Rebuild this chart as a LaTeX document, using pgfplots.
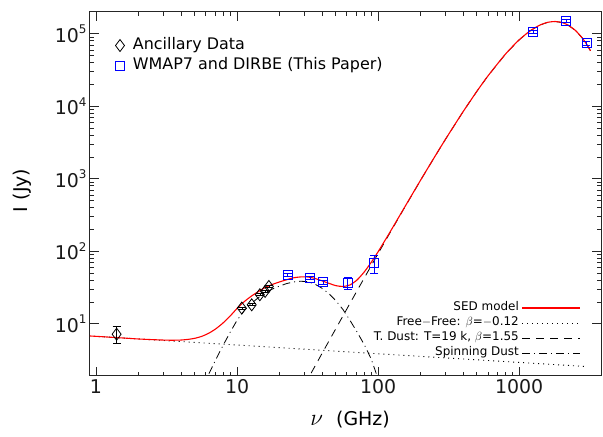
\documentclass[border=0pt]{standalone}
\usepackage{fontspec}
\setmainfont{DejaVu Sans}
\usepackage{pgfplots}
\pgfplotsset{compat=1.18}

\newcommand{\tp}[1]{10\raisebox{8.5bp}{\fontsize{12}{12}\selectfont #1}}

\begin{document}
\begin{tikzpicture}
% curves + frame
\begin{axis}[
  at={(0,0)}, anchor=south west,
  scale only axis, width=511bp, height=364bp,
  xmode=log, ymode=log,
  xmin=0.907, xmax=3800, ymin=1.91, ymax=2.0e5,
  axis line style={black!85, line width=1bp},
  tick style={black!85, line width=0.8bp},
  tick align=inside,
  major tick length=9bp, minor tick length=4.5bp,
  xtick={1,10,100,1000}, xticklabels={1,10,100,1000},
  ytick={10,100,1000,10000,100000},
  yticklabels={\tp{1},\tp{2},\tp{3},\tp{4},\tp{5}},
  tick label style={font=\fontsize{19}{19}\selectfont, black!90},
  xlabel={\scalebox{1.35}{$\nu$}\hspace{13bp}(GHz)},
  ylabel={I\,\,(Jy)},
  xlabel style={at={(axis description cs:0.509,-0.121)}, anchor=center, font=\fontsize{19}{19}\selectfont},
  ylabel style={at={(axis description cs:-0.133,0.51)}, anchor=center, font=\fontsize{19}{19}\selectfont},
  legend cell align=right, legend plot pos=right,
  legend image code/.code={\draw[#1] (0bp,0bp) -- (58bp,0bp);},
  legend style={at={(rel axis cs:0.967,0.038)}, anchor=south east,
    draw=none, fill=none, font=\fontsize{12}{12}\selectfont,
    nodes={inner sep=1bp, text height=9bp, text depth=3bp},
    row sep=1bp, column sep=2bp},
]
% thermal dust
\addplot[black, line width=0.8bp, dash pattern=on 8bp off 6bp, forget plot] coordinates {
(30,1.42) (35,2.44) (40,3.90) (50,8.51) (60,16.04) (70,27.4) (80,43.4) (90,65.0)
(100,93.3) (120,173.6) (150,368) (200,956) (250,1968) (300,3506) (400,8427)
(500,16020) (600,26220) (800,52670) (1000,82720) (1200,110600) (1400,131900)
(1600,144400) (1800,147800) (2000,143500) (2200,133200) (2500,111600)
(2800,87520) (3000,72170) (3200,58390)
};
% spinning dust
\addplot[black, line width=0.8bp, dash pattern=on 8bp off 4bp on 1bp off 4bp, forget plot] coordinates {
(5.623,1.26) (6.310,2.04) (7.079,3.24) (7.943,5.01) (8.913,7.59) (10,11.22)
(11.22,15.14) (12.59,19.05) (14.13,22.91) (15.85,26.92) (17.78,30.20)
(19.95,33.11) (22.39,35.89) (25.12,37.84) (28.18,38.73) (31.62,38.19)
(35.48,35.48) (39.81,31.19) (44.67,26.30) (50.12,20.89) (56.23,15.85)
(63.10,11.22) (70.79,7.76) (79.43,5.25) (89.13,3.31) (100,1.74) (112.2,0.79)
};
% free-free
\addplot[black, line width=0.9bp, dash pattern=on 1bp off 4bp, forget plot] coordinates {
(0.891,6.82) (10,5.11) (100,3.87) (1000,2.94) (3000,2.58)
};
% SED model
\addplot[red, line width=1.1bp, smooth, tension=0.4, forget plot] coordinates {
(0.891,6.82) (1,6.73) (1.259,6.55) (1.585,6.37) (1.995,6.19) (2.512,6.06)
(3.162,5.96) (3.548,5.95) (3.981,5.98) (4.467,6.10) (5.012,6.32) (5.623,6.73)
(6.310,7.44) (7.079,8.56) (7.943,10.26) (8.913,12.77) (10,16.33) (11.22,20.18)
(12.59,24.02) (14.13,27.81) (15.85,31.75) (17.78,34.96) (19.95,37.81)
(22.39,40.52) (25.12,43.17) (28.18,44.38) (31.62,44.35) (35.48,42.43)
(39.81,39.36) (44.67,36.30) (50.12,33.68) (56.23,32.79) (63.10,34.40)
(70.79,40.20) (79.43,51.53) (89.13,70.14) (100,98.91) (112.2,143.1)
(120,177.6) (150,371.7) (200,959.6) (250,1971) (300,3509) (400,8430)
(500,16020) (600,26220) (800,52670) (1000,82720) (1200,110600) (1400,131900)
(1600,144400) (1800,147800) (2000,143500) (2200,133200) (2500,111600)
(2800,87520) (3000,72170) (3200,58390)
};
\addlegendimage{red, line width=1.1bp}
\addlegendentry{SED model}
\addlegendimage{black, line width=0.9bp, dash pattern=on 1bp off 4bp}
\addlegendentry{Free$-$Free: $\beta$=$-$0.12}
\addlegendimage{black, line width=0.8bp, dash pattern=on 8bp off 6bp}
\addlegendentry{T. Dust: T=19 k, $\beta$=1.55}
\addlegendimage{black, line width=0.8bp, dash pattern=on 8bp off 4bp on 1bp off 4bp}
\addlegendentry{Spinning Dust}
\end{axis}

% data points
\begin{axis}[
  at={(0,0)}, anchor=south west,
  scale only axis, width=511bp, height=364bp,
  xmode=log, ymode=log,
  xmin=0.907, xmax=3800, ymin=1.91, ymax=2.0e5,
  hide axis,
  legend cell align=left,
  legend style={at={(rel axis cs:0.038,0.94)}, anchor=north west,
    draw=none, fill=none, font=\fontsize{16}{16}\selectfont,
    nodes={inner sep=1.5bp, text height=12bp, text depth=4bp},
    row sep=1bp, column sep=4bp},
  legend image code/.code={\draw[#1] plot coordinates {(0bp,0bp)}; \path (-7bp,0bp) (7bp,0bp);},
]
\addplot[black, only marks, mark=diamond, mark size=6bp, line width=0.8bp,
  error bars/.cd, y dir=both, y explicit, error mark options={rotate=90, mark size=4bp, line width=0.8bp}]
  coordinates {
(1.4,7.2) +- (0,1.9)
(10.8,16.5) +- (0,0.6)
(12.7,18.3) +- (0,0.6)
(14.5,25.2) +- (0,0.8)
(15.8,28.0) +- (0,0.8)
(16.8,32.8) +- (0,1.0)
};
\addlegendentry{Ancillary Data}
\addplot[blue, only marks, mark=square, mark size=4.5bp, line width=0.8bp,
  error bars/.cd, y dir=both, y explicit, error mark options={rotate=90, mark size=4bp, line width=0.8bp}]
  coordinates {
(22.8,47.6) +- (0,2.5)
(33.0,42.9) +- (0,2.0)
(40.7,37.5) +- (0,2.0)
(60.8,36.6) +- (0,7.0)
(93.5,69.0) +- (0,19.5)
(1249,105000) +- (0,5000)
(2141,151000) +- (0,6000)
(2997,74000) +- (0,4000)
};
\addlegendentry{WMAP7 and DIRBE (This Paper)}
\end{axis}
\pgfresetboundingbox
\path[use as bounding box] (-90bp,-61bp) rectangle (513bp,376bp);
\end{tikzpicture}
\end{document}
